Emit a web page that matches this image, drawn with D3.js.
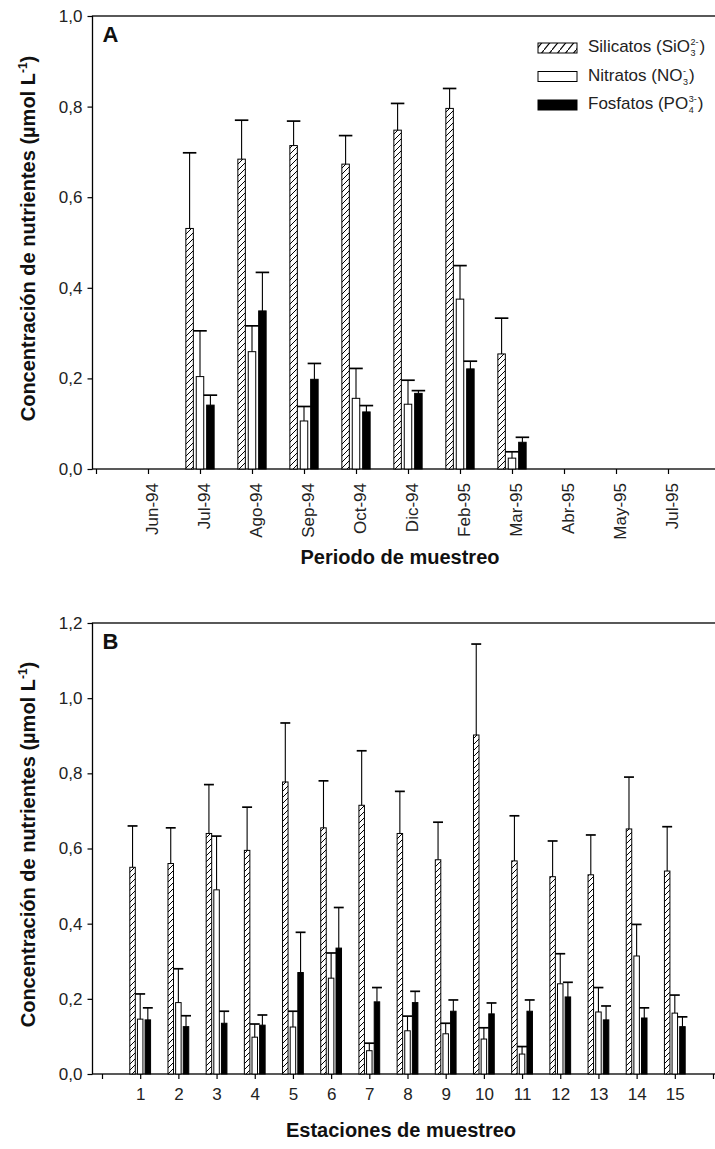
<!DOCTYPE html>
<html>
<head>
<meta charset="utf-8">
<script src="https://cdn.jsdelivr.net/npm/d3@7/dist/d3.min.js"></script>
<style>
  body { margin: 0; background: #fff; }
  svg { display: block; font-family: "Liberation Sans", Arial, sans-serif; }
</style>
</head>
<body>
<div id="chart"></div>
<script>
// ---- DATA -------------------------------------------------------------
// Panel A: sampling periods (mean + SD, null = not sampled)
const mesesA = ["Jun-94", "Jul-94", "Ago-94", "Sep-94", "Oct-94", "Dic-94",
                "Feb-95", "Mar-95", "Abr-95", "May-95", "Jul-95"];
const silicatosA   = [null, 0.531, 0.684, 0.714, 0.673, 0.748, 0.796, 0.254, null, null, null];
const silicatosSdA = [null, 0.167, 0.086, 0.054, 0.063, 0.059, 0.044, 0.079, null, null, null];
const nitratosA    = [null, 0.204, 0.259, 0.106, 0.156, 0.143, 0.375, 0.024, null, null, null];
const nitratosSdA  = [null, 0.101, 0.057, 0.032, 0.066, 0.053, 0.074, 0.014, null, null, null];
const fosfatosA    = [null, 0.141, 0.349, 0.198, 0.126, 0.167, 0.221, 0.059, null, null, null];
const fosfatosSdA  = [null, 0.022, 0.085, 0.035, 0.014, 0.006, 0.017, 0.011, null, null, null];

// Panel B: sampling stations
const estaciones   = ["1","2","3","4","5","6","7","8","9","10","11","12","13","14","15"];
const silicatosB   = [0.550, 0.560, 0.640, 0.595, 0.777, 0.655, 0.715, 0.640, 0.570, 0.902, 0.567, 0.525, 0.530, 0.652, 0.540];
const silicatosSdB = [0.110, 0.095, 0.130, 0.115, 0.157, 0.125, 0.145, 0.112, 0.100, 0.242, 0.120, 0.095, 0.106, 0.138, 0.118];
const nitratosB    = [0.146, 0.190, 0.490, 0.098, 0.125, 0.255, 0.062, 0.115, 0.107, 0.093, 0.053, 0.240, 0.165, 0.314, 0.162];
const nitratosSdB  = [0.067, 0.090, 0.143, 0.035, 0.042, 0.067, 0.020, 0.039, 0.028, 0.030, 0.020, 0.080, 0.065, 0.084, 0.048];
const fosfatosB    = [0.144, 0.126, 0.135, 0.130, 0.270, 0.335, 0.192, 0.190, 0.167, 0.160, 0.167, 0.205, 0.144, 0.149, 0.126];
const fosfatosSdB  = [0.032, 0.029, 0.032, 0.027, 0.107, 0.108, 0.038, 0.030, 0.030, 0.029, 0.030, 0.039, 0.037, 0.027, 0.026];

const nombres = ["Silicatos", "Nitratos", "Fosfatos"];
const formulas = [
  {base: "SiO", sup: "2-", sub: "3"},
  {base: "NO",  sup: "-",  sub: "3"},
  {base: "PO",  sup: "3-", sub: "4"}
];
const yTicksA = [0, 0.2, 0.4, 0.6, 0.8, 1.0];
const yTicksB = [0, 0.2, 0.4, 0.6, 0.8, 1.0, 1.2];

// ---- SVG --------------------------------------------------------------
const svgWidth = 715;
const svgHeight = 1149;

const svg = d3.select("#chart")
  .append("svg")
  .attr("width", svgWidth)
  .attr("height", svgHeight);

const defs = svg.append("defs");

// diagonal hatch used inside the silicate bars
const hatch = defs.append("pattern")
  .attr("id", "hatch")
  .attr("patternUnits", "userSpaceOnUse")
  .attr("width", 6)
  .attr("height", 6);
hatch.append("rect").attr("width", 6).attr("height", 6).attr("fill", "#fff");
hatch.append("path")
  .attr("d", "M0,6 L6,0 M-1,1 L1,-1 M5,7 L7,5")
  .attr("stroke", "#000")
  .attr("stroke-width", 1);

// wider hatch for the legend key
const hatchKey = defs.append("pattern")
  .attr("id", "hatchKey")
  .attr("patternUnits", "userSpaceOnUse")
  .attr("width", 8)
  .attr("height", 10);
hatchKey.append("rect").attr("width", 8).attr("height", 10).attr("fill", "#fff");
hatchKey.append("path")
  .attr("d", "M0,10 L8,0")
  .attr("stroke", "#000")
  .attr("stroke-width", 1.1);

const fills = ["url(#hatch)", "#fff", "#000"];
const offsets = [-0.2, 0, 0.2];   // bar position inside a group (category units)
const halfBar = 0.072;
const halfCap = 0.13;

const fmtComma = d => d3.format(".1f")(d).replace(".", ",");

function drawPanel(cfg) {
  const g = svg.append("g");

  const xScale = d3.scaleLinear()
    .domain([0, cfg.nX])
    .range([cfg.x0, cfg.x1]);

  const yScale = d3.scaleLinear()
    .domain([0, cfg.yMax])
    .range([cfg.bottom, cfg.top]);

  // frame (right edge falls outside the picture)
  g.append("rect")
    .attr("x", cfg.axisX)
    .attr("y", cfg.top)
    .attr("width", 725 - cfg.axisX)
    .attr("height", cfg.bottom - cfg.top)
    .attr("fill", "none")
    .attr("stroke", "#000")
    .attr("stroke-width", 1.3);

  // y axis
  const leftAxis = d3.axisLeft(yScale)
    .tickValues(cfg.yTicks)
    .tickSize(5)
    .tickSizeOuter(0)
    .tickPadding(5)
    .tickFormat(fmtComma);
  const yg = g.append("g")
    .attr("transform", `translate(${cfg.axisX},0)`)
    .call(leftAxis);
  yg.select(".domain").remove();
  yg.selectAll("line").attr("stroke-width", 1.2);
  yg.selectAll("text")
    .attr("font-size", 17)
    .attr("font-family", "Liberation Sans, Arial, sans-serif")
    .attr("fill", "#222");

  // x axis
  const bottomAxis = d3.axisBottom(xScale)
    .tickValues(d3.range(0, cfg.nX + 1))
    .tickSize(5)
    .tickSizeOuter(0)
    .tickPadding(cfg.xPad)
    .tickFormat(cfg.xLabel);
  const xg = g.append("g")
    .attr("transform", `translate(0,${cfg.bottom})`)
    .call(bottomAxis);
  xg.select(".domain").remove();
  xg.selectAll("line").attr("stroke-width", 1.2);
  xg.selectAll("text")
    .attr("font-size", 17)
    .attr("font-family", "Liberation Sans, Arial, sans-serif")
    .attr("fill", "#222");
  if (cfg.rotate) {
    xg.selectAll("text")
      .attr("transform", "rotate(-90)")
      .attr("x", -14)
      .attr("y", 0)
      .attr("dy", "0.58em")
      .style("text-anchor", "end");
  }

  // bars + error bars
  const barW = xScale(2 * halfBar) - xScale(0);
  const capW = xScale(halfCap) - xScale(0);
  cfg.series.forEach((s, k) => {
    const rows = s.mean
      .map((v, i) => ({pos: i + 1, v: v, sd: s.sd[i]}))
      .filter(d => d.v !== null);

    g.append("g")
      .selectAll("rect")
      .data(rows)
      .enter()
      .append("rect")
      .attr("x", d => xScale(d.pos + offsets[k] - halfBar))
      .attr("y", d => yScale(d.v))
      .attr("width", barW)
      .attr("height", d => yScale(0) - yScale(d.v))
      .attr("fill", fills[k])
      .attr("stroke", "#000")
      .attr("stroke-width", 1);
  });
  cfg.series.forEach((s, k) => {
    const rows = s.mean
      .map((v, i) => ({pos: i + 1, v: v, sd: s.sd[i]}))
      .filter(d => d.v !== null);

    const eg = g.append("g").attr("stroke", "#000").attr("fill", "none");
    eg.selectAll("line.err")
      .data(rows)
      .enter()
      .append("line")
      .attr("x1", d => xScale(d.pos + offsets[k]))
      .attr("x2", d => xScale(d.pos + offsets[k]))
      .attr("y1", d => yScale(d.v))
      .attr("y2", d => yScale(d.v + d.sd))
      .attr("stroke-width", 1.1);
    eg.selectAll("line.cap")
      .data(rows)
      .enter()
      .append("line")
      .attr("x1", d => xScale(d.pos + offsets[k]) - capW)
      .attr("x2", d => xScale(d.pos + offsets[k]) + capW)
      .attr("y1", d => yScale(d.v + d.sd))
      .attr("y2", d => yScale(d.v + d.sd))
      .attr("stroke-width", 1.7);
  });

  // panel letter
  g.append("text")
    .attr("x", cfg.axisX + 10)
    .attr("y", cfg.top + 26)
    .attr("font-size", 22)
    .attr("font-weight", "bold")
    .attr("fill", "#111")
    .text(cfg.letter);

  // y title
  const yt = g.append("text")
    .attr("transform", `translate(35,${(cfg.top + cfg.bottom) / 2 - 4}) rotate(-90)`)
    .attr("text-anchor", "middle")
    .attr("font-size", 20)
    .attr("font-weight", "bold")
    .attr("fill", "#111");
  yt.append("tspan").text("Concentración de nutrientes (µmol L");
  yt.append("tspan").attr("dy", -8).attr("font-size", 12).text("-1");
  yt.append("tspan").attr("dy", 8).text(")");

  // x title
  g.append("text")
    .attr("x", cfg.titleX)
    .attr("y", cfg.titleY)
    .attr("text-anchor", "middle")
    .attr("font-size", 20)
    .attr("font-weight", "bold")
    .attr("fill", "#111")
    .text(cfg.xTitle);

  return g;
}

const gA = drawPanel({
  letter: "A",
  top: 16, bottom: 469, axisX: 92.5,
  nX: 12, x0: 96, x1: 96 + 12 * 52,
  yMax: 1.0, yTicks: yTicksA,
  rotate: true, xPad: 3,
  xLabel: i => mesesA[i - 1] || "",
  xTitle: "Periodo de muestreo", titleX: 400, titleY: 564,
  series: [
    {mean: silicatosA, sd: silicatosSdA},
    {mean: nitratosA, sd: nitratosSdA},
    {mean: fosfatosA, sd: fosfatosSdA}
  ]
});

drawPanel({
  letter: "B",
  top: 623, bottom: 1074, axisX: 92.5,
  nX: 16, x0: 102, x1: 713,
  yMax: 1.2, yTicks: yTicksB,
  rotate: false, xPad: 9,
  xLabel: i => estaciones[i - 1] || "",
  xTitle: "Estaciones de muestreo", titleX: 401, titleY: 1137,
  series: [
    {mean: silicatosB, sd: silicatosSdB},
    {mean: nitratosB, sd: nitratosSdB},
    {mean: fosfatosB, sd: fosfatosSdB}
  ]
});

// legend (panel A, top right)
const legend = gA.append("g").attr("font-size", 17).attr("fill", "#222");
const keyFills = ["url(#hatchKey)", "#fff", "#000"];
nombres.forEach((nombre, k) => {
  const by = 52 + k * 28.5;
  legend.append("rect")
    .attr("x", 538)
    .attr("y", by - 9)
    .attr("width", 39)
    .attr("height", 10)
    .attr("fill", keyFills[k])
    .attr("stroke", "#000")
    .attr("stroke-width", 1);

  const f = formulas[k];
  const t = legend.append("text").attr("x", 588).attr("y", by).text(`${nombre} (${f.base}`);
  const w = t.node().getComputedTextLength();
  const sup = legend.append("text").attr("x", 588 + w + 0.5).attr("y", by - 7)
    .attr("font-size", 9).text(f.sup);
  const sub = legend.append("text").attr("x", 588 + w + 0.5).attr("y", by + 4)
    .attr("font-size", 9).text(f.sub);
  const sw = Math.max(sup.node().getComputedTextLength(), sub.node().getComputedTextLength());
  legend.append("text").attr("x", 588 + w + sw + 1.5).attr("y", by).text(")");
});
</script>
</body>
</html>
